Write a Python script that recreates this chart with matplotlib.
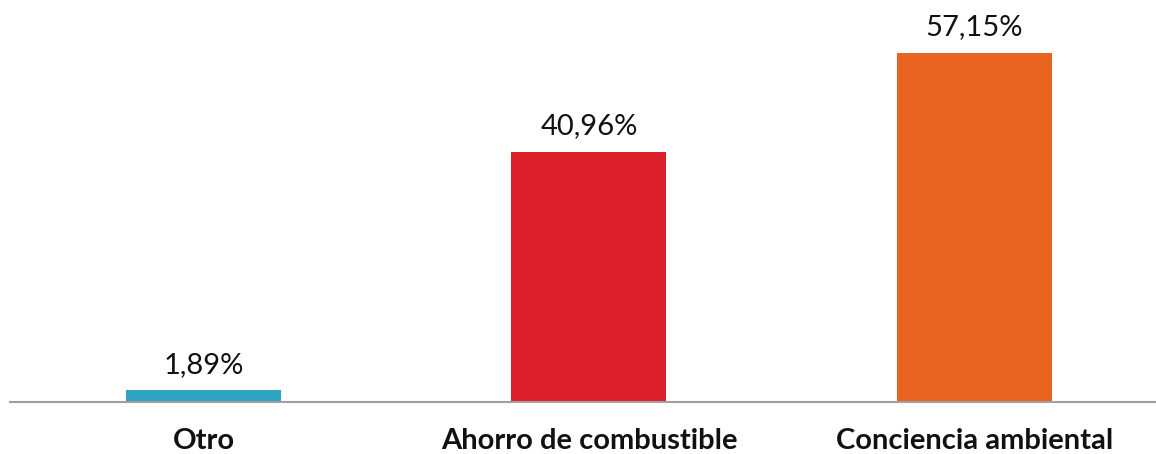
import matplotlib
matplotlib.use("Agg")
import matplotlib.pyplot as plt

categories = ["Otro", "Ahorro de combustible", "Conciencia ambiental"]
values = [1.89, 40.96, 57.15]
value_labels = ["1,89%", "40,96%", "57,15%"]
colors = ["#2FA4C1", "#DA1F2A", "#E8631F"]

W, H = 1156, 454
fig = plt.figure(figsize=(W / 100, H / 100), dpi=100)
# axes placed in pixel terms: baseline at y=402, left edge at x=10
ax = fig.add_axes([10 / W, (H - 402) / H, (W - 10) / W, (402 - 35.6) / H])

x = range(len(categories))
ax.bar(x, values, width=0.402, color=colors, zorder=2)
ax.set_xlim(-0.502, 2.471)
ax.set_ylim(0, 60)

for xi, v, lab in zip(x, values, value_labels):
    ax.annotate(lab, (xi, v), xytext=(0, 9), textcoords="offset points",
                ha="center", va="bottom", fontsize=21, family="Lato",
                color="#111111")

ax.set_xticks(list(x))
ax.set_xticklabels(categories, fontsize=21, fontweight="bold", family="Lato",
                   color="#111111")
ax.tick_params(axis="x", length=0, pad=19)
ax.set_yticks([])
for s in ["top", "right", "left"]:
    ax.spines[s].set_visible(False)
ax.spines["bottom"].set_color("#A0A0A0")
ax.spines["bottom"].set_linewidth(1.5)

fig.savefig("out.png", dpi=100)
